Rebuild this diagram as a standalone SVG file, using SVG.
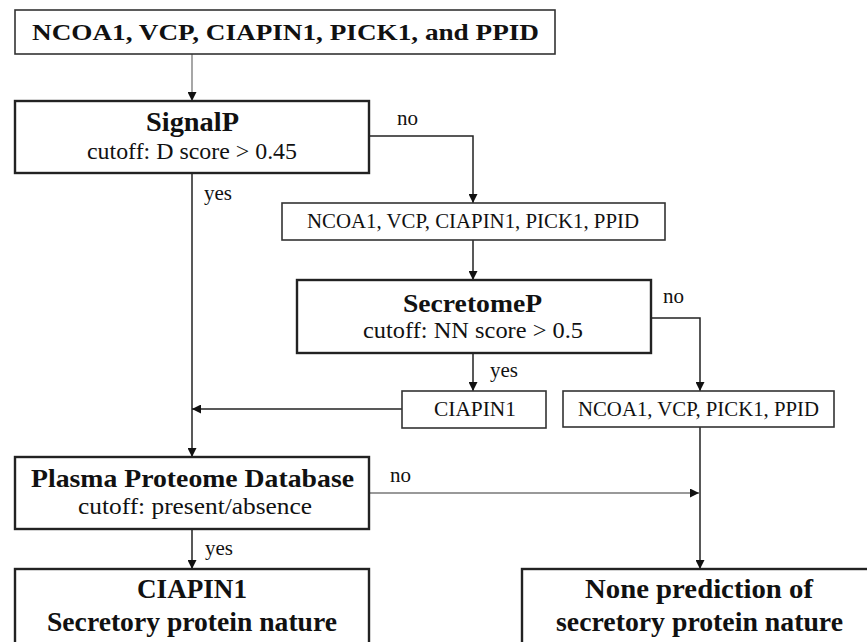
<svg xmlns="http://www.w3.org/2000/svg" width="867" height="642" viewBox="0 0 867 642">
<defs>
<marker id="ah" viewBox="0 0 10 10" refX="10" refY="5" markerWidth="9" markerHeight="9" markerUnits="userSpaceOnUse" orient="auto">
<path d="M0,0 L10,5 L0,10 z" fill="#111"/>
</marker>
</defs>
<style>
.box{fill:#fff;stroke:#222;stroke-width:2.4}
.lbox{fill:#fff;stroke:#333;stroke-width:1.6}
.t{font-family:"Liberation Serif",serif;fill:#111;text-anchor:middle}
.b{font-weight:bold}
.c{fill:none;stroke:#222;stroke-width:1.5}
.g{fill:none;stroke:#777;stroke-width:1.3}
.lab{font-family:"Liberation Serif",serif;fill:#111;font-size:21px}
</style>
<rect width="867" height="642" fill="#fff"/>
<g id="connectors">
<line class="g" x1="192" y1="54" x2="192" y2="101" marker-end="url(#ah)"/>
<polyline class="c" points="369,136 473,136 473,203" marker-end="url(#ah)"/>
<line class="c" x1="192" y1="173" x2="192" y2="457" marker-end="url(#ah)"/>
<line class="c" x1="473" y1="240" x2="473" y2="280" marker-end="url(#ah)"/>
<line class="c" x1="473" y1="353" x2="473" y2="391" marker-end="url(#ah)"/>
<polyline class="c" points="651,318 700,318 700,391" marker-end="url(#ah)"/>
<line class="c" x1="402" y1="409" x2="192" y2="409" marker-end="url(#ah)"/>
<line class="c" x1="700" y1="427" x2="700" y2="569" marker-end="url(#ah)"/>
<line class="g" x1="369" y1="493" x2="699" y2="493" marker-end="url(#ah)"/>
<line class="c" x1="192" y1="529" x2="192" y2="569" marker-end="url(#ah)"/>
<text class="lab" x="397" y="125">no</text>
<text class="lab" x="204" y="200">yes</text>
<text class="lab" x="663" y="303">no</text>
<text class="lab" x="490" y="377">yes</text>
<text class="lab" x="390" y="482">no</text>
<text class="lab" x="205" y="555">yes</text>
</g>
<g id="n-input">
<rect class="lbox" x="15" y="10" width="540" height="44" stroke="#555"/>
<text class="t b" x="285.5" y="40" font-size="23" textLength="507" lengthAdjust="spacingAndGlyphs">NCOA1, VCP, CIAPIN1, PICK1, and PPID</text>
</g>
<g id="n-signalp">
<rect class="box" x="15" y="101" width="354" height="72"/>
<text class="t b" x="192.5" y="131" font-size="28" textLength="93" lengthAdjust="spacingAndGlyphs">SignalP</text>
<text class="t" x="192" y="159" font-size="23" textLength="210" lengthAdjust="spacingAndGlyphs">cutoff: D score &gt; 0.45</text>
</g>
<g id="n-list5">
<rect class="lbox" x="282" y="203" width="383" height="37"/>
<text class="t" x="473" y="228" font-size="20" textLength="332" lengthAdjust="spacingAndGlyphs">NCOA1, VCP, CIAPIN1, PICK1, PPID</text>
</g>
<g id="n-secretomep">
<rect class="box" x="297" y="280" width="354" height="73"/>
<text class="t b" x="472.5" y="312" font-size="26" textLength="139" lengthAdjust="spacingAndGlyphs">SecretomeP</text>
<text class="t" x="473" y="338" font-size="23" textLength="220" lengthAdjust="spacingAndGlyphs">cutoff: NN score &gt; 0.5</text>
</g>
<g id="n-ciapin1-small">
<rect class="lbox" x="402" y="391" width="144" height="37"/>
<text class="t" x="475" y="416" font-size="20" textLength="82" lengthAdjust="spacingAndGlyphs">CIAPIN1</text>
</g>
<g id="n-list4">
<rect class="lbox" x="563" y="391" width="271" height="36"/>
<text class="t" x="698.5" y="416" font-size="20" textLength="241" lengthAdjust="spacingAndGlyphs">NCOA1, VCP, PICK1, PPID</text>
</g>
<g id="n-plasma">
<rect class="box" x="15" y="457" width="354" height="72"/>
<text class="t b" x="192.5" y="487" font-size="26" textLength="323" lengthAdjust="spacingAndGlyphs">Plasma Proteome Database</text>
<text class="t" x="195" y="514" font-size="23" textLength="234" lengthAdjust="spacingAndGlyphs">cutoff: present/absence</text>
</g>
<g id="n-result-yes">
<rect class="box" x="15" y="569" width="354" height="90"/>
<text class="t b" x="192" y="598" font-size="28" textLength="110" lengthAdjust="spacingAndGlyphs">CIAPIN1</text>
<text class="t b" x="192" y="631" font-size="28" textLength="290" lengthAdjust="spacingAndGlyphs">Secretory protein nature</text>
</g>
<g id="n-result-no">
<rect class="box" x="522" y="569" width="360" height="90"/>
<text class="t b" x="699" y="598" font-size="28" textLength="228" lengthAdjust="spacingAndGlyphs">None prediction of</text>
<text class="t b" x="699.5" y="631" font-size="28" textLength="287" lengthAdjust="spacingAndGlyphs">secretory protein nature</text>
</g>
</svg>
